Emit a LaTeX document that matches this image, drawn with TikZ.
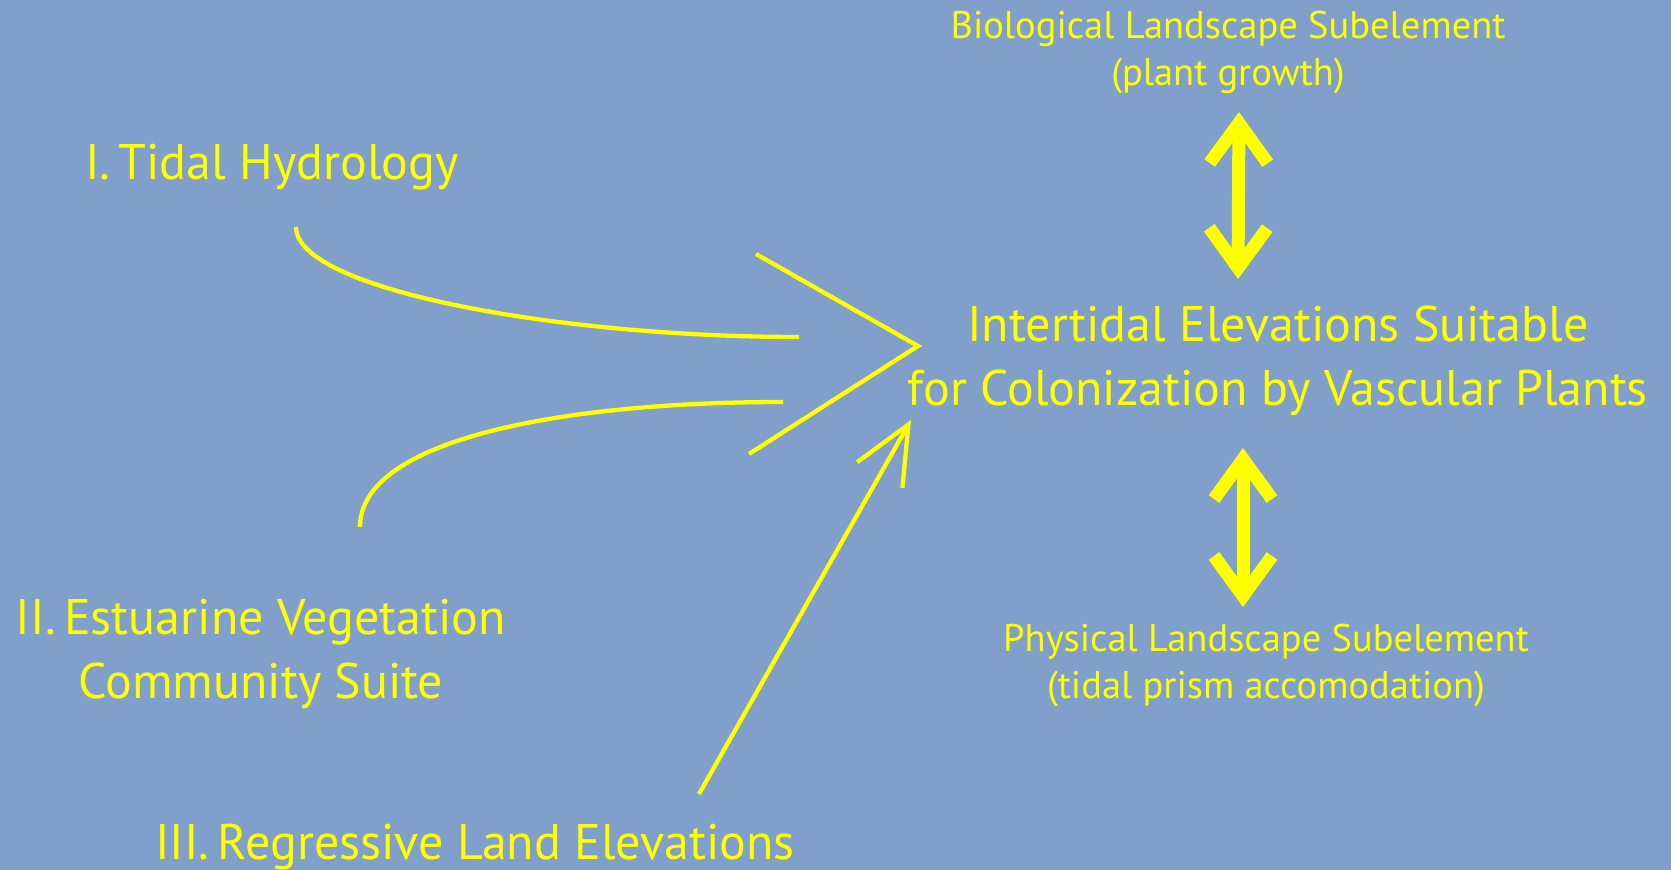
\documentclass[tikz,border=0pt]{standalone}
\usepackage{fontspec}
\setmainfont{PT Sans}
\usepackage{xcolor}
\usetikzlibrary{arrows.meta, positioning}
\definecolor{Sky}   {HTML}{809FCB}
\definecolor{Lemon} {HTML}{FFFF00}

\begin{document}
\begin{tikzpicture}[x=1pt, y=-1pt,
    label/.style={text=Lemon, font=\fontsize{50}{64}\selectfont, align=center, inner sep=0pt, anchor=base},
    sublabel/.style={text=Lemon, font=\fontsize{38.5}{47}\selectfont, align=center, inner sep=0pt, anchor=base},
    feed/.style={draw=Lemon, line width=4.3pt},
    push/.style={feed, -{Straight Barb[length=58pt, width=52pt, sharp]}},
    link/.style={draw=Lemon, line width=13pt, {Straight Barb[length=40pt, width=58pt, sharp]}-{Straight Barb[length=40pt, width=58pt, sharp]}}]
  \fill[Sky] (0,0) rectangle (1671,870);
  \useasboundingbox (0,0) rectangle (1671,870);
  % Drivers
  \node[label] (tidal) at (272,179) {I.\,Tidal Hydrology};
  \node[label] (estuarine) at (261,698) {II.\,Estuarine Vegetation\\Community Suite};
  \node[label] (regressive) at (475,859) {III.\,Regressive Land Elevations};
  % Outcome
  \node[label] (target) at (1278,405) {Intertidal Elevations Suitable\\for Colonization by Vascular Plants};
  \node[sublabel] (bio) at (1228,85) {Biological Landscape Subelement\\(plant growth)};
  \node[sublabel] (phys) at (1266,698) {Physical Landscape Subelement\\(tidal prism accomodation)};
  % Free ends
  \coordinate (tidal-a) at (296,227);
  \coordinate (tidal-b) at (799,337);
  \coordinate (estuarine-a) at (360,527);
  \coordinate (estuarine-b) at (783,402);
  \coordinate (regressive-a) at (699,794);
  \coordinate (regressive-b) at (911,420);
  \coordinate (fork-top) at (756,254);
  \coordinate (fork-tip) at (918,346);
  \coordinate (fork-low) at (749,454);
  \coordinate (bio-a) at (1239,112);
  \coordinate (bio-b) at (1238,279);
  \coordinate (phys-a) at (1243,448);
  \coordinate (phys-b) at (1243,607);
  % Convergence
  \draw[feed] (tidal-a) .. controls (296,290) and (560,337) .. (tidal-b);
  \draw[feed] (estuarine-a) .. controls (360,440) and (560,402) .. (estuarine-b);
  \draw[feed, line join=miter] (fork-top) -- (fork-tip) -- (fork-low);
  \draw[push] (regressive-a) -- (regressive-b);
  % Subelements
  \draw[link] (bio-a) -- (bio-b);
  \draw[link] (phys-a) -- (phys-b);
\end{tikzpicture}
\end{document}
